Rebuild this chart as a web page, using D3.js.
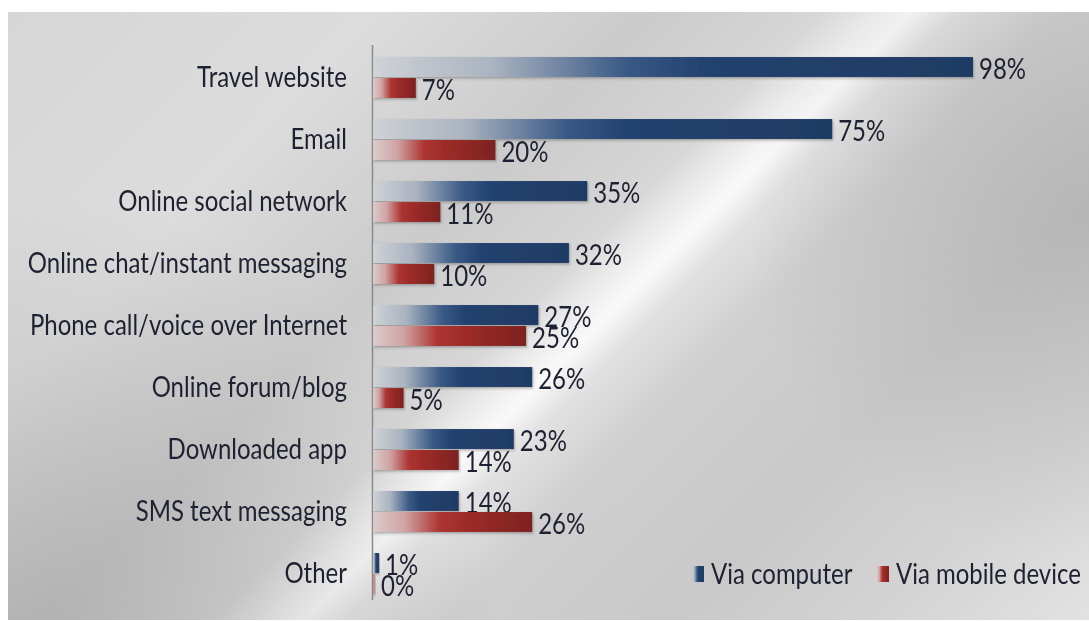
<!DOCTYPE html>
<html>
<head>
<meta charset="utf-8">
<script src="https://cdn.jsdelivr.net/npm/d3@7/dist/d3.min.js"></script>
<style>
  html, body { margin: 0; padding: 0; background: #fff; }
  svg { display: block; }
  text { font-family: Lato, "Open Sans", sans-serif; fill: #1f2030; }
</style>
</head>
<body>
<svg id="chart" width="1089" height="621"></svg>
<script>
// Where people made contact, by channel
const categories = [
  "Travel website", "Email", "Online social network",
  "Online chat/instant messaging", "Phone call/voice over Internet",
  "Online forum/blog", "Downloaded app", "SMS text messaging", "Other"
];
const viaComputer = [98, 75, 35, 32, 27, 26, 23, 14, 1];
const viaMobile   = [7, 20, 11, 10, 25, 5, 14, 26, 0];
const seriesNames = ["Via computer", "Via mobile device"];
const seriesKeys  = ["computer", "mobile"];

const rows = categories.map((c, i) => ({
  category: c,
  computer: viaComputer[i],
  mobile: viaMobile[i]
}));

const W = 1089, H = 621;
const TEXT_STRETCH = "scale(1,1.18)";
const svg = d3.select("#chart");
const defs = svg.append("defs");

// Brushed-metal style backdrop with a diagonal highlight
const bg = defs.append("linearGradient").attr("id", "bg")
  .attr("gradientUnits", "userSpaceOnUse")
  .attr("x1", 8).attr("y1", 12).attr("x2", 853).attr("y2", 857);
[[0, "#d6d6d6"], [0.22, "#dcdcdc"], [0.38, "#cbcbcb"], [0.48, "#d6d6d6"],
 [0.515, "#eeeeee"], [0.535, "#f9f9f9"], [0.56, "#e2e2e2"], [0.62, "#cfcfcf"],
 [0.75, "#c9c9c9"], [0.88, "#d4d4d4"], [1, "#e2e2e2"]]
  .forEach(([o, c]) => bg.append("stop").attr("offset", o).attr("stop-color", c));

const shade = defs.append("radialGradient").attr("id", "shade")
  .attr("gradientUnits", "userSpaceOnUse")
  .attr("cx", 40).attr("cy", 660).attr("r", 460);
shade.append("stop").attr("offset", 0).attr("stop-color", "#8f8f8f").attr("stop-opacity", 0.45);
shade.append("stop").attr("offset", 1).attr("stop-color", "#8f8f8f").attr("stop-opacity", 0);

const shadeR = defs.append("radialGradient").attr("id", "shadeR")
  .attr("gradientUnits", "userSpaceOnUse")
  .attr("cx", 1089).attr("cy", 220).attr("r", 340);
shadeR.append("stop").attr("offset", 0).attr("stop-color", "#999").attr("stop-opacity", 0.4);
shadeR.append("stop").attr("offset", 1).attr("stop-color", "#999").attr("stop-opacity", 0);

// Bar fills: pale at the axis, full colour toward the end
const barStops = {
  computer: [[0, "#cfd2d6"], [0.2, "#aab3c0"], [0.42, "#3a5a86"], [0.55, "#23426f"], [1, "#1f3b64"]],
  mobile:   [[0, "#dccbcb"], [0.2, "#cfa3a3"], [0.42, "#ad3431"], [0.6, "#9c2b29"], [1, "#7d2220"]]
};
seriesKeys.forEach(k => {
  const g = defs.append("linearGradient").attr("id", "grad-" + k)
    .attr("x1", 0).attr("y1", 0).attr("x2", 1).attr("y2", 0);
  barStops[k].forEach(([o, c]) => g.append("stop").attr("offset", o).attr("stop-color", c));
});

const sh = defs.append("filter").attr("id", "drop")
  .attr("x", "-5%").attr("y", "-30%").attr("width", "110%").attr("height", "180%");
sh.append("feDropShadow").attr("dx", 1).attr("dy", 1.5).attr("stdDeviation", 1)
  .attr("flood-color", "#555").attr("flood-opacity", 0.45);

const soft = defs.append("filter").attr("id", "soft");
soft.append("feGaussianBlur").attr("stdDeviation", 0.45);

["bg", "shade", "shadeR"].forEach(id =>
  svg.append("rect").attr("x", 8).attr("y", 12).attr("width", W - 8).attr("height", H - 13)
    .attr("fill", `url(#${id})`));

// Scales
const x = d3.scaleLinear().domain([0, 98]).range([373, 973]);
const y = d3.scaleBand().domain(categories).range([46.5, 604.5])
  .paddingInner(0.34).paddingOuter(0.17);
const ySub = d3.scaleBand().domain(seriesKeys).range([0, y.bandwidth()]).paddingInner(0.05);

const g = svg.append("g").attr("filter", "url(#soft)");

// Category axis (labels only)
const yAxis = d3.axisLeft(y).tickSize(0).tickPadding(0);
const axG = g.append("g").attr("transform", "translate(347,0)").call(yAxis);
axG.select(".domain").remove();
axG.selectAll("text")
  .attr("font-size", 24)
  .attr("font-family", "Lato, sans-serif")
  .attr("fill", "#1f2030")
  .attr("dy", "0.35em")
  .attr("transform", TEXT_STRETCH);

// Baseline
g.append("line")
  .attr("x1", x(0) - 0.5).attr("x2", x(0) - 0.5)
  .attr("y1", 45).attr("y2", 600)
  .attr("stroke", "#8a8a8a").attr("stroke-width", 1.5);

// Bars
const rowG = g.selectAll("g.row").data(rows).join("g")
  .attr("class", "row")
  .attr("transform", d => `translate(0,${y(d.category)})`);

const cells = rowG.selectAll("g.cell")
  .data(d => seriesKeys.map(k => ({ key: k, value: d[k] })))
  .join("g").attr("class", "cell");

cells.append("rect")
  .attr("x", x(0))
  .attr("y", d => ySub(d.key))
  .attr("height", ySub.bandwidth())
  .attr("width", d => Math.max(x(d.value) - x(0), d.value === 0 ? 2 : 0))
  .attr("fill", d => d.value === 0 ? "#c98a8a" : `url(#grad-${d.key})`)
  .attr("filter", "url(#drop)");

cells.append("g")
  .attr("transform", d =>
    `translate(${Math.max(x(d.value), x(0) + 2) + 6},${ySub(d.key) + ySub.bandwidth() / 2 + 2})`)
  .append("text")
  .attr("transform", TEXT_STRETCH)
  .attr("dy", "0.35em")
  .attr("font-size", 24)
  .attr("fill", "#2a2b38")
  .text(d => d.value + "%");

// Legend
const legend = g.append("g").attr("transform", "translate(692,574)");
const legendX = [0, 185];
seriesKeys.forEach((k, i) => {
  const lg = legend.append("g").attr("transform", `translate(${legendX[i]},0)`);
  lg.append("rect").attr("x", 0).attr("y", -8).attr("width", 12).attr("height", 16)
    .attr("fill", `url(#grad-${k})`);
  lg.append("text").attr("x", 19).attr("y", 0).attr("dy", "0.35em")
    .attr("transform", TEXT_STRETCH)
    .attr("font-size", 24).attr("fill", "#1f2030")
    .text(seriesNames[i]);
});
</script>
</body>
</html>
